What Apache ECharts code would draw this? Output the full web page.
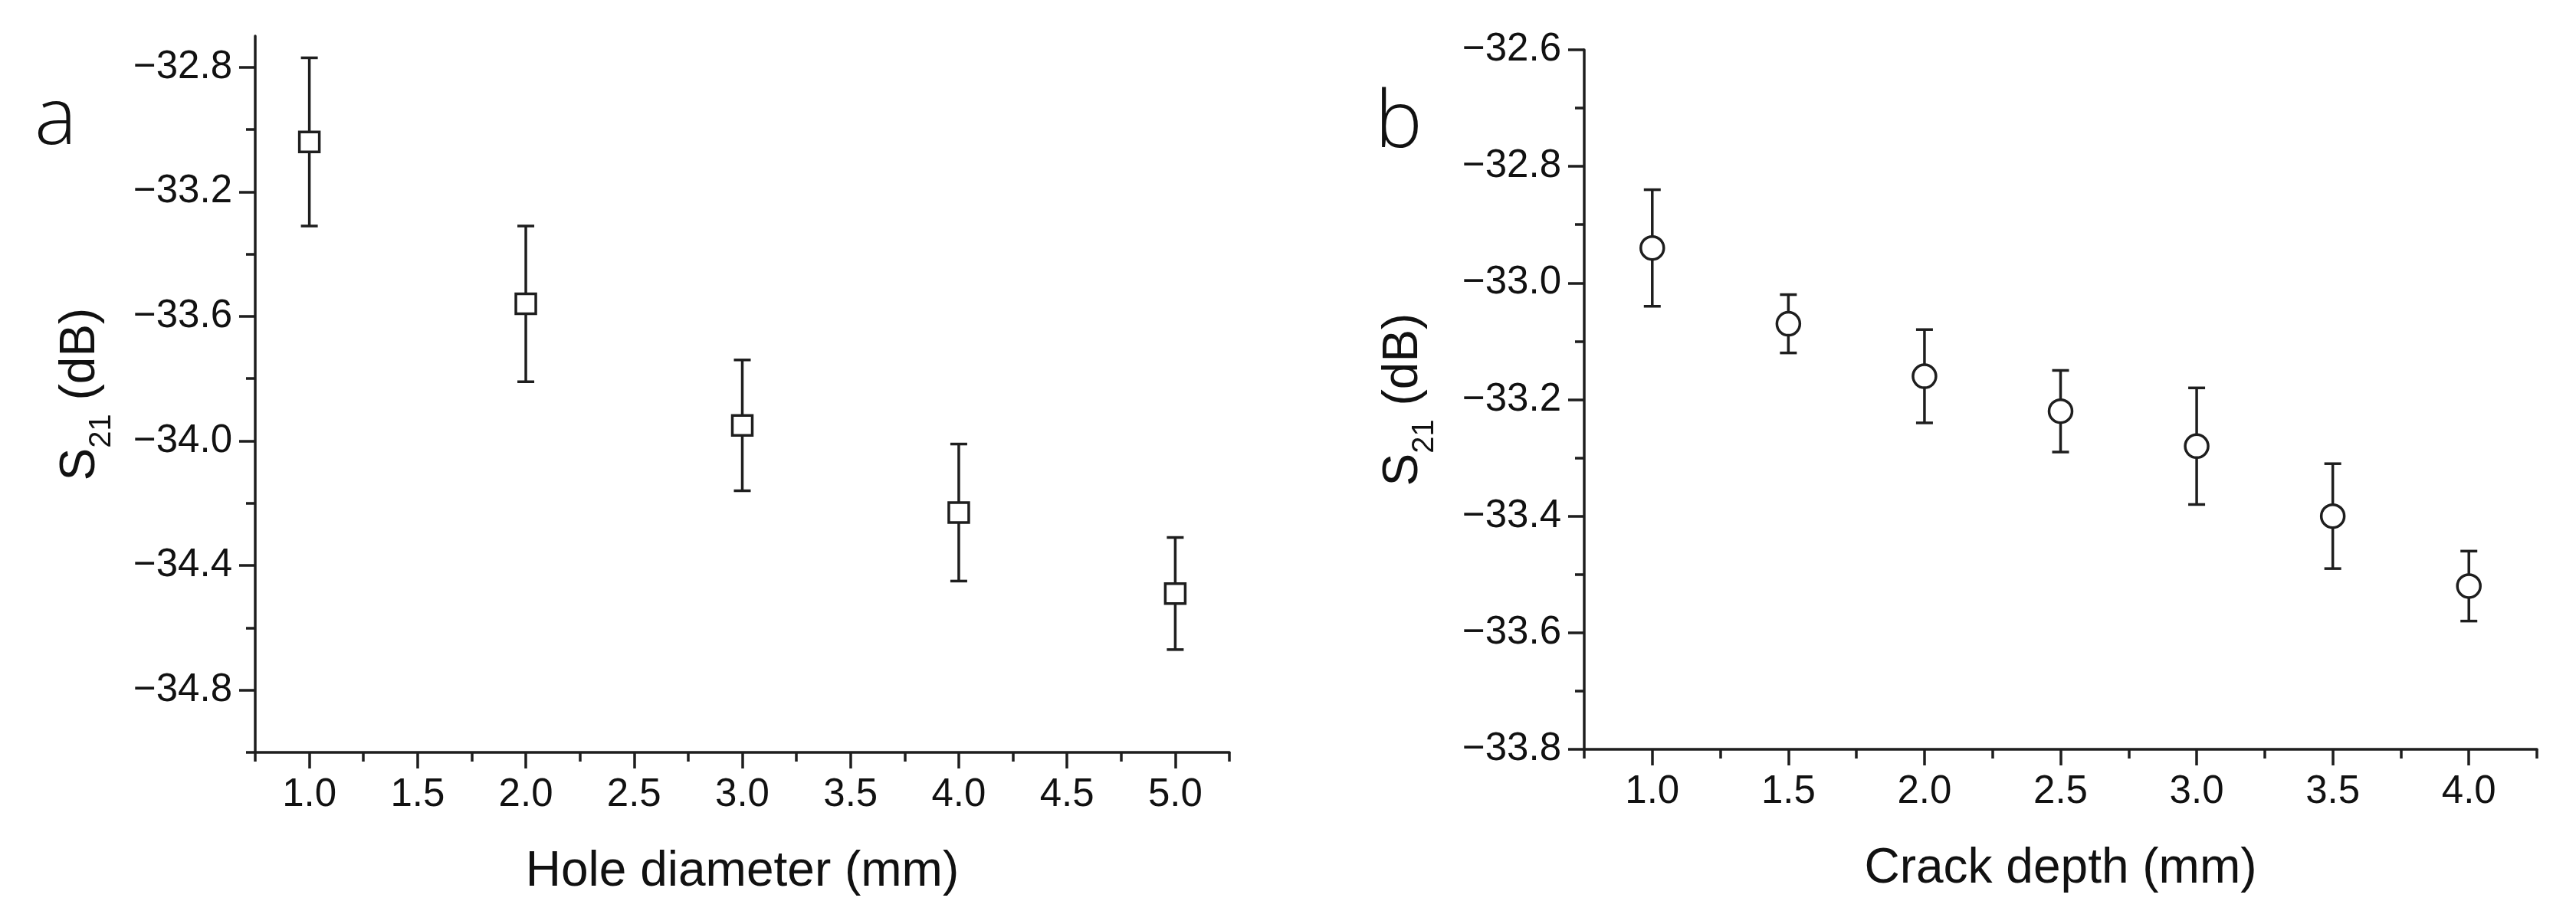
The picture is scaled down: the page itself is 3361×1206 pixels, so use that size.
<!DOCTYPE html>
<html><head><meta charset="utf-8">
<script src="https://cdn.jsdelivr.net/npm/echarts@6/dist/echarts.min.js"></script>
<style>html,body{margin:0;padding:0;background:#fff}#c{width:3361px;height:1206px}</style>
</head><body><div id="c"></div>
<script>
// ---- Panel a: hole diameter ----
const holeDiameter = [1, 2, 3, 4, 5];
const holeS21  = [-33.04, -33.56, -33.95, -34.23, -34.49];
const holeLow  = [-33.31, -33.81, -34.16, -34.45, -34.67];
const holeHigh = [-32.77, -33.31, -33.74, -34.01, -34.31];
const aXRange = [0.75, 5.25];
const aYRange = [-35.0, -32.7];
const aXTicks = [1.0, 1.5, 2.0, 2.5, 3.0, 3.5, 4.0, 4.5, 5.0];
const aXMinor = [0.75, 1.25, 1.75, 2.25, 2.75, 3.25, 3.75, 4.25, 4.75, 5.25];
const aYTicks = [-34.8, -34.4, -34.0, -33.6, -33.2, -32.8];
const aYMinor = [-35.0, -34.6, -34.2, -33.8, -33.4, -33.0];

// ---- Panel b: crack depth ----
const crackDepth = [1.0, 1.5, 2.0, 2.5, 3.0, 3.5, 4.0];
const crackS21  = [-32.94, -33.07, -33.16, -33.22, -33.28, -33.40, -33.52];
const crackLow  = [-33.04, -33.12, -33.24, -33.29, -33.38, -33.49, -33.58];
const crackHigh = [-32.84, -33.02, -33.08, -33.15, -33.18, -33.31, -33.46];
const bXRange = [0.75, 4.25];
const bYRange = [-33.8, -32.6];
const bXTicks = [1.0, 1.5, 2.0, 2.5, 3.0, 3.5, 4.0];
const bXMinor = [0.75, 1.25, 1.75, 2.25, 2.75, 3.25, 3.75, 4.25];
const bYTicks = [-33.8, -33.6, -33.4, -33.2, -33.0, -32.8, -32.6];
const bYMinor = [-33.7, -33.5, -33.3, -33.1, -32.9, -32.7];

const titleA = 'Hole diameter (mm)';
const titleB = 'Crack depth (mm)';

const INK = '#1e1e1e';
const FONT = '"Liberation Sans", Arial, sans-serif';
const fmt = v => (v < 0 ? '\u2212' : '') + Math.abs(v).toFixed(1);

function mainX(grid, range, ticks, title) {
  return {
    type: 'value', gridIndex: grid, position: 'bottom', offset: 0, min: range[0], max: range[1],
    axisLine: {show: true, onZero: false, lineStyle: {color: INK, width: 3.5}},
    axisTick: {show: true, customValues: ticks, length: 21, lineStyle: {color: INK, width: 3.5}},
    axisLabel: {show: true, customValues: ticks, formatter: fmt, margin: 30,
      color: '#111', fontSize: 51, fontFamily: FONT},
    splitLine: {show: false},
    name: title, nameLocation: 'middle', nameGap: 124,
    nameTextStyle: {color: '#111', fontSize: 64, fontFamily: FONT}
  };
}
function minorX(grid, range, ticks) {
  return {
    type: 'value', gridIndex: grid, position: 'bottom', offset: 0, min: range[0], max: range[1],
    axisLine: {show: false, onZero: false},
    axisTick: {show: true, customValues: ticks, length: 12, lineStyle: {color: INK, width: 3.5}},
    axisLabel: {show: false}, splitLine: {show: false}
  };
}
function mainY(grid, range, ticks, gap) {
  return {
    type: 'value', gridIndex: grid, position: 'left', offset: 0, min: range[0], max: range[1],
    axisLine: {show: true, onZero: false, lineStyle: {color: INK, width: 3.5}},
    axisTick: {show: true, customValues: ticks, length: 21, lineStyle: {color: INK, width: 3.5}},
    axisLabel: {show: true, customValues: ticks, formatter: fmt, margin: 30,
      color: '#111', fontSize: 51, fontFamily: FONT},
    splitLine: {show: false},
    name: '{s|S}{sub|21}{s| (dB)}', nameLocation: 'middle', nameRotate: 90, nameGap: gap,
    nameTextStyle: {
      color: '#111', fontFamily: FONT,
      rich: {
        s: {fontSize: 64, fontFamily: FONT, color: '#111', lineHeight: 96, verticalAlign: 'middle'},
        sub: {fontSize: 40, fontFamily: FONT, color: '#111', lineHeight: 40, verticalAlign: 'bottom'}
      }
    }
  };
}
function minorY(grid, range, ticks) {
  return {
    type: 'value', gridIndex: grid, position: 'left', offset: 0, min: range[0], max: range[1],
    axisLine: {show: false, onZero: false},
    axisTick: {show: true, customValues: ticks, length: 12, lineStyle: {color: INK, width: 3.5}},
    axisLabel: {show: false}, splitLine: {show: false}
  };
}

function errRender(params, api) {
  const x = api.value(0), lo = api.value(1), hi = api.value(2);
  const pLo = api.coord([x, lo]), pHi = api.coord([x, hi]);
  const w = 11;
  const style = {stroke: INK, lineWidth: 3.5};
  return {type: 'group', children: [
    {type: 'line', shape: {x1: pLo[0], y1: pLo[1], x2: pHi[0], y2: pHi[1]}, style: style},
    {type: 'line', shape: {x1: pLo[0] - w, y1: pLo[1], x2: pLo[0] + w, y2: pLo[1]}, style: style},
    {type: 'line', shape: {x1: pHi[0] - w, y1: pHi[1], x2: pHi[0] + w, y2: pHi[1]}, style: style}
  ]};
}

const chart = echarts.init(document.getElementById('c'), null, {renderer: 'canvas'});
chart.setOption({
  backgroundColor: '#fff',
  animation: false,
  grid: [
    {left: 333, top: 47, width: 1271, height: 935},
    {left: 2067, top: 65, width: 1243, height: 913}
  ],
  xAxis: [
    mainX(0, aXRange, aXTicks, titleA),
    minorX(0, aXRange, aXMinor),
    mainX(1, bXRange, bXTicks, titleB),
    minorX(1, bXRange, bXMinor)
  ],
  yAxis: [
    mainY(0, aYRange, aYTicks, 180),
    minorY(0, aYRange, aYMinor),
    mainY(1, bYRange, bYTicks, 188),
    minorY(1, bYRange, bYMinor)
  ],
  graphic: [
    {type: 'text', left: 45, top: 106, style: {text: 'a', font: '300 104px "Open Sans", "Liberation Sans", sans-serif', fill: '#111'}},
    {type: 'text', left: 1794, top: 110, style: {text: 'b', font: '300 104px "Open Sans", "Liberation Sans", sans-serif', fill: '#111'}}
  ],
  series: [
    {type: 'custom', xAxisIndex: 0, yAxisIndex: 0, renderItem: errRender, encode: {x: 0, y: [1, 2]},
      data: holeDiameter.map((x, i) => [x, holeLow[i], holeHigh[i]]), z: 2},
    {type: 'scatter', xAxisIndex: 0, yAxisIndex: 0, symbol: 'rect', symbolSize: 26,
      itemStyle: {color: '#fff', borderColor: INK, borderWidth: 3.5, opacity: 1},
      data: holeDiameter.map((x, i) => [x, holeS21[i]]), z: 3},
    {type: 'custom', xAxisIndex: 2, yAxisIndex: 2, renderItem: errRender, encode: {x: 0, y: [1, 2]},
      data: crackDepth.map((x, i) => [x, crackLow[i], crackHigh[i]]), z: 2},
    {type: 'scatter', xAxisIndex: 2, yAxisIndex: 2, symbol: 'circle', symbolSize: 30,
      itemStyle: {color: '#fff', borderColor: INK, borderWidth: 3.5, opacity: 1},
      data: crackDepth.map((x, i) => [x, crackS21[i]]), z: 3}
  ]
});
</script>
</body></html>
